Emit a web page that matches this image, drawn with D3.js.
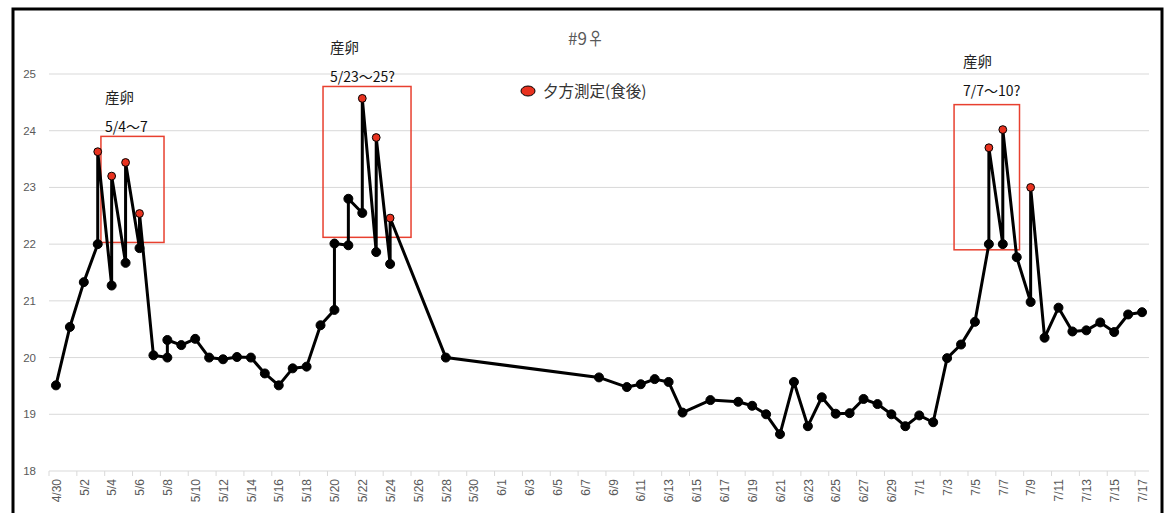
<!DOCTYPE html>
<html>
<head>
<meta charset="utf-8">
<script src="https://cdn.jsdelivr.net/npm/d3@7"></script>
<style>
  body { margin: 0; background: #fff; }
  text { font-family: "Liberation Sans", "Noto Sans CJK JP", sans-serif; }
  .jp { font-family: "Noto Sans CJK JP", sans-serif; }
</style>
</head>
<body>
<div id="chart"></div>
<script>
// measurements, in the order they were taken (morning first, then evening)
var obsDates = ["4/30","5/1","5/2","5/3","5/3","5/4","5/4","5/5","5/5","5/6","5/6","5/7",
  "5/8","5/8","5/9","5/10","5/11","5/12","5/13","5/14","5/15","5/16","5/17","5/18","5/19",
  "5/20","5/20","5/21","5/21","5/22","5/22","5/23","5/23","5/24","5/24","5/28",
  "6/8","6/10","6/11","6/12","6/13","6/14","6/16","6/18","6/19","6/20","6/21","6/22","6/23",
  "6/24","6/25","6/26","6/27","6/28","6/29","6/30","7/1","7/2","7/3","7/4","7/5",
  "7/6","7/6","7/7","7/7","7/8","7/9","7/9","7/10","7/11","7/12","7/13","7/14","7/15","7/16","7/17"];
var obsTemps = [19.51,20.54,21.33,22.0,23.63,21.27,23.2,21.67,23.44,21.93,22.54,20.04,
  20.0,20.31,20.22,20.33,20.0,19.97,20.01,20.0,19.72,19.51,19.81,19.84,20.57,
  20.84,22.01,21.98,22.8,22.55,24.57,21.86,23.88,21.65,22.46,20.0,
  19.65,19.48,19.53,19.62,19.57,19.03,19.25,19.22,19.15,19.0,18.65,19.57,18.79,
  19.3,19.01,19.02,19.27,19.18,19.0,18.79,18.98,18.86,19.99,20.23,20.63,
  22.0,23.7,22.0,24.02,21.77,20.98,23.0,20.35,20.88,20.46,20.48,20.62,20.45,20.76,20.8];
// 1 = evening measurement (after feeding)
var obsEvening = [0,0,0,0,1,0,1,0,1,0,1,0,
  0,0,0,0,0,0,0,0,0,0,0,0,0,
  0,0,0,0,0,1,0,1,0,1,0,
  0,0,0,0,0,0,0,0,0,0,0,0,0,
  0,0,0,0,0,0,0,0,0,0,0,0,
  0,1,0,1,0,0,1,0,0,0,0,0,0,0,0];

// spawning periods: box spans (days after 4/30) and temperature range, label
var spawnStart = [3.23, 19.18, 64.5];
var spawnEnd   = [7.76, 25.5, 69.2];
var spawnLow   = [22.03, 22.12, 21.9];
var spawnHigh  = [23.9, 24.78, 24.46];
var spawnText  = ["5/4〜7","5/23〜25?","7/7〜10?"];

var yTicks = [18,19,20,21,22,23,24,25];
var year = 2021;

var parseDay = function(s) {
  var p = s.split("/");
  return new Date(year, +p[0] - 1, +p[1], 12);
};
var firstDay = parseDay("4/30");
var dayAfter = function(n) { return new Date(firstDay.getTime() + n * 864e5); };

var width = 1165, height = 513;
var svg = d3.select("#chart").append("svg")
    .attr("width", width)
    .attr("height", height);

svg.append("rect").attr("width", width).attr("height", height).attr("fill", "#fff");

// plot area
var x = d3.scaleTime()
    .domain([dayAfter(-0.5), d3.timeHour.offset(parseDay("7/17"), 12)])
    .range([49, 1149]);
var y = d3.scaleLinear().domain([18, 25]).range([471, 74]);

// gridlines
svg.append("g").selectAll("line").data(yTicks).join("line")
    .attr("x1", 49).attr("x2", 1149)
    .attr("y1", function(d) { return y(d); })
    .attr("y2", function(d) { return y(d); })
    .attr("stroke", "#d9d9d9").attr("stroke-width", 1);

// y labels
svg.append("g").selectAll("text").data(yTicks).join("text")
    .attr("x", 36).attr("y", function(d) { return y(d); })
    .attr("dy", "0.35em")
    .attr("text-anchor", "end")
    .attr("font-size", 11.5)
    .attr("fill", "#595959")
    .text(function(d) { return d; });

// x axis: labels every second day, tick marks at day boundaries
var labelDays = d3.timeDay.range(new Date(year, 3, 30), new Date(year, 6, 18), 2)
    .map(function(d) { return d3.timeHour.offset(d, 12); });
var xAxis = d3.axisBottom(x)
    .tickValues(labelDays)
    .tickFormat(d3.timeFormat("%-m/%-d"))
    .tickSize(0)
    .tickPadding(0);
var gx = svg.append("g").attr("transform", "translate(0,471)").call(xAxis);
gx.select(".domain").remove();
gx.selectAll("text")
    .attr("transform", "rotate(-90)")
    .attr("text-anchor", "end")
    .attr("x", -8).attr("y", 0).attr("dy", "0.35em")
    .attr("font-size", 12)
    .attr("fill", "#595959");

svg.append("g").selectAll("line").data(labelDays).join("line")
    .attr("x1", function(d) { return x(d3.timeHour.offset(d, -12)); })
    .attr("x2", function(d) { return x(d3.timeHour.offset(d, -12)); })
    .attr("y1", 471).attr("y2", 476)
    .attr("stroke", "#d9d9d9");

// spawning boxes and notes
var noteShift = [[4, 0], [7, 0], [9, -5]];
spawnText.forEach(function(t, i) {
  var x0 = x(dayAfter(spawnStart[i]));
  var x1 = x(dayAfter(spawnEnd[i]));
  var top = y(spawnHigh[i]);
  svg.append("rect")
      .attr("x", x0).attr("y", top)
      .attr("width", x1 - x0).attr("height", y(spawnLow[i]) - top)
      .attr("fill", "none").attr("stroke", "#e8402f").attr("stroke-width", 1.5);
  svg.append("text").attr("class", "jp")
      .attr("x", x0 + noteShift[i][0]).attr("y", top - 33 + noteShift[i][1])
      .attr("font-size", 14.5).attr("fill", "#222")
      .text("産卵");
  svg.append("text").attr("class", "jp")
      .attr("x", x0 + noteShift[i][0]).attr("y", top - 4 + noteShift[i][1])
      .attr("font-size", 14).attr("fill", "#111")
      .text(t);
});

var pts = obsDates.map(function(d, i) {
  return { date: parseDay(d), temp: obsTemps[i], evening: obsEvening[i] };
});

var line = d3.line()
    .x(function(d) { return x(d.date); })
    .y(function(d) { return y(d.temp); });

svg.append("path")
    .datum(pts)
    .attr("d", line)
    .attr("fill", "none")
    .attr("stroke", "#000")
    .attr("stroke-width", 3)
    .attr("stroke-linejoin", "round");

svg.append("g").selectAll("circle").data(pts).join("circle")
    .attr("cx", function(d) { return x(d.date); })
    .attr("cy", function(d) { return y(d.temp); })
    .attr("r", function(d) { return d.evening ? 3.9 : 4.5; })
    .attr("fill", function(d) { return d.evening ? "#e8321f" : "#000"; })
    .attr("stroke", "#000")
    .attr("stroke-width", 1);

// title
svg.append("text").attr("class", "jp")
    .attr("x", 586).attr("y", 45)
    .attr("text-anchor", "middle")
    .attr("font-size", 17).attr("fill", "#595959")
    .text("#9♀");

// legend
svg.append("ellipse")
    .attr("cx", 528).attr("cy", 91).attr("rx", 7).attr("ry", 5)
    .attr("fill", "#e8321f").attr("stroke", "#000").attr("stroke-width", 1);
svg.append("text").attr("class", "jp")
    .attr("x", 543).attr("y", 96.5)
    .attr("font-size", 15.5).attr("fill", "#333")
    .text("夕方測定(食後)");

// outer frame
svg.append("rect")
    .attr("x", 13).attr("y", 9).attr("width", 1149).attr("height", 520)
    .attr("fill", "none").attr("stroke", "#000").attr("stroke-width", 3);
</script>
</body>
</html>
